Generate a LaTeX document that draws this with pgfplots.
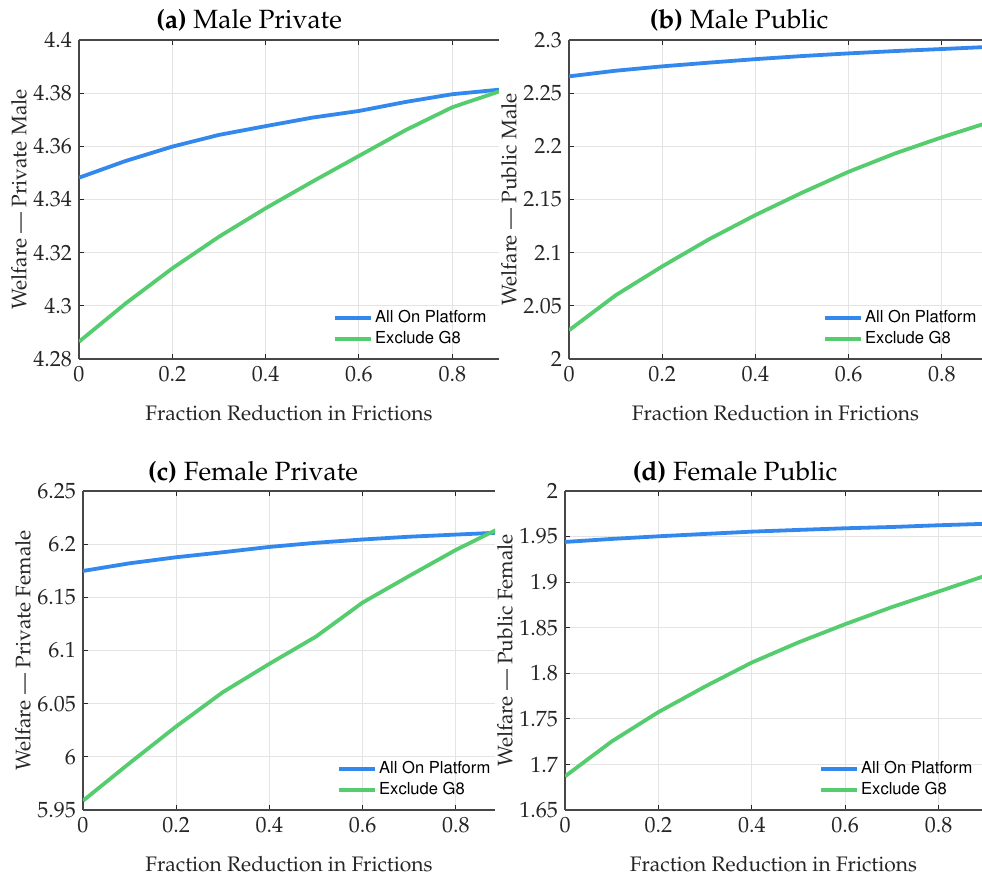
\documentclass[border=0pt]{standalone}
\usepackage[T1]{fontenc}
\usepackage{mathpazo}
\usepackage[scaled=0.92]{helvet}
\usepackage{pgfplots}
\pgfplotsset{compat=1.18}
\definecolor{cblue}{HTML}{3388EE}
\definecolor{cgreen}{HTML}{55CC6E}
\definecolor{axgray}{HTML}{262626}
\definecolor{gridgray}{HTML}{E4E4E4}

\pgfplotsset{
 mylegline/.style={legend image code/.code={\draw[#1] (0pt,0pt) -- (18pt,0pt);}},
 panel/.style={
  scale only axis,
  height=159.5pt,
  xmin=0,
  xtick={0,0.2,0.4,0.6,0.8},
  axis x line*=box, axis y line*=left,
  tick align=inside,
  xtick pos=both, ytick pos=both,
  major tick length=2.5pt,
  grid=major,
  major grid style={gridgray, line width=0.5pt},
  axis line style={axgray!85, line width=0.6pt, -},
  tick style={axgray, line width=0.5pt},
  ticklabel style={font=\fontsize{11}{13}\selectfont, text=axgray},
  xlabel={Fraction Reduction in Frictions},
  xlabel style={at={([yshift=-27pt]axis description cs:0.5,0)}, anchor=center, font=\fontsize{10.5}{12}\selectfont, text=axgray},
  ylabel style={at={([xshift=-30pt]axis description cs:0,0.5)}, anchor=center, font=\fontsize{10.5}{12}\selectfont, text=axgray},
  every axis title shift=0pt,
  title style={at={([xshift=85pt,yshift=10pt]axis description cs:0,1)}, anchor=center, font=\fontsize{13.2}{15}\selectfont},
  legend style={draw=none, fill=none, font=\sffamily\fontsize{9}{10.5}\selectfont,
    at={([xshift=127pt,yshift=5pt]axis description cs:0,0)}, anchor=south west,
    inner sep=0pt, row sep=1pt, nodes={inner sep=1pt}},
  legend cell align=left,
  every axis plot post/.append style={mylegline},
  every axis plot/.append style={line width=1.9pt},
 }
}

\begin{document}
\begin{tikzpicture}
\path[use as bounding box] (0,0) rectangle (491pt,439pt);

% (a) Male Private
\begin{axis}[panel, at={(39.5pt,259.5pt)}, anchor=south west, width=210pt,
  xmax=0.9, ymin=4.28, ymax=4.4, ytick={4.28,4.3,4.32,4.34,4.36,4.38,4.4},
  yticklabels={4.28,4.3,4.32,4.34,4.36,4.38,4.4},
  title={\textbf{(a)} Male Private}, ylabel={Welfare --- Private Male}]
\addplot[cblue] coordinates {(0,4.3482) (0.1,4.3545) (0.2,4.3599) (0.3,4.3643) (0.4,4.3676) (0.5,4.3708) (0.6,4.3733) (0.7,4.3767) (0.8,4.3796) (0.9,4.3813)};
\addplot[cgreen] coordinates {(0,4.2865) (0.1,4.3009) (0.2,4.3141) (0.3,4.3260) (0.4,4.3367) (0.5,4.3467) (0.6,4.3564) (0.7,4.3661) (0.8,4.3747) (0.9,4.3806)};
\legend{All On Platform, Exclude G8}
\end{axis}

% (b) Male Public
\begin{axis}[panel, at={(284.5pt,259.5pt)}, anchor=south west, width=206.5pt,
  xmax=0.886, ymin=2, ymax=2.3, ytick={2,2.05,2.1,2.15,2.2,2.25,2.3},
  yticklabels={2,2.05,2.1,2.15,2.2,2.25,2.3},
  title={\textbf{(b)} Male Public}, ylabel={Welfare --- Public Male}]
\addplot[cblue] coordinates {(0,2.2658) (0.1,2.2711) (0.2,2.2752) (0.3,2.2787) (0.4,2.2820) (0.5,2.2849) (0.6,2.2874) (0.7,2.2896) (0.8,2.2915) (0.9,2.2935)};
\addplot[cgreen] coordinates {(0,2.0270) (0.1,2.0599) (0.2,2.0871) (0.3,2.1125) (0.4,2.1354) (0.5,2.1564) (0.6,2.1761) (0.7,2.1934) (0.8,2.2085) (0.9,2.2225)};
\legend{All On Platform, Exclude G8}
\end{axis}

% (c) Female Private
\begin{axis}[panel, at={(41.5pt,34pt)}, anchor=south west, width=206pt,
  xmax=0.884, ymin=5.95, ymax=6.25, ytick={5.95,6,6.05,6.1,6.15,6.2,6.25},
  yticklabels={5.95,6,6.05,6.1,6.15,6.2,6.25},
  title={\textbf{(c)} Female Private}, ylabel={Welfare --- Private Female},
  title style={at={([xshift=85pt,yshift=9.5pt]axis description cs:0,1)}}]
\addplot[cblue] coordinates {(0,6.1748) (0.1,6.1820) (0.2,6.1877) (0.3,6.1924) (0.4,6.1974) (0.5,6.2013) (0.6,6.2044) (0.7,6.2070) (0.8,6.2090) (0.9,6.2110)};
\addplot[cgreen] coordinates {(0,5.9587) (0.1,5.9941) (0.2,6.0286) (0.3,6.0608) (0.4,6.0875) (0.5,6.1131) (0.6,6.1451) (0.7,6.1701) (0.8,6.1946) (0.9,6.2163)};
\legend{All On Platform, Exclude G8}
\end{axis}

% (d) Female Public
\begin{axis}[panel, at={(282.5pt,34pt)}, anchor=south west, width=208.5pt,
  xmax=0.893, ymin=1.65, ymax=2, ytick={1.65,1.7,1.75,1.8,1.85,1.9,1.95,2},
  yticklabels={1.65,1.7,1.75,1.8,1.85,1.9,1.95,2},
  title={\textbf{(d)} Female Public}, ylabel={Welfare --- Public Female},
  title style={at={([xshift=85pt,yshift=9.5pt]axis description cs:0,1)}}]
\addplot[cblue] coordinates {(0,1.9441) (0.1,1.9474) (0.2,1.9503) (0.3,1.9529) (0.4,1.9554) (0.5,1.9573) (0.6,1.9591) (0.7,1.9605) (0.8,1.9624) (0.9,1.9640)};
\addplot[cgreen] coordinates {(0,1.6869) (0.1,1.7252) (0.2,1.7574) (0.3,1.7855) (0.4,1.8118) (0.5,1.8339) (0.6,1.8539) (0.7,1.8726) (0.8,1.8897) (0.9,1.9070)};
\legend{All On Platform, Exclude G8}
\end{axis}
\end{tikzpicture}
\end{document}
